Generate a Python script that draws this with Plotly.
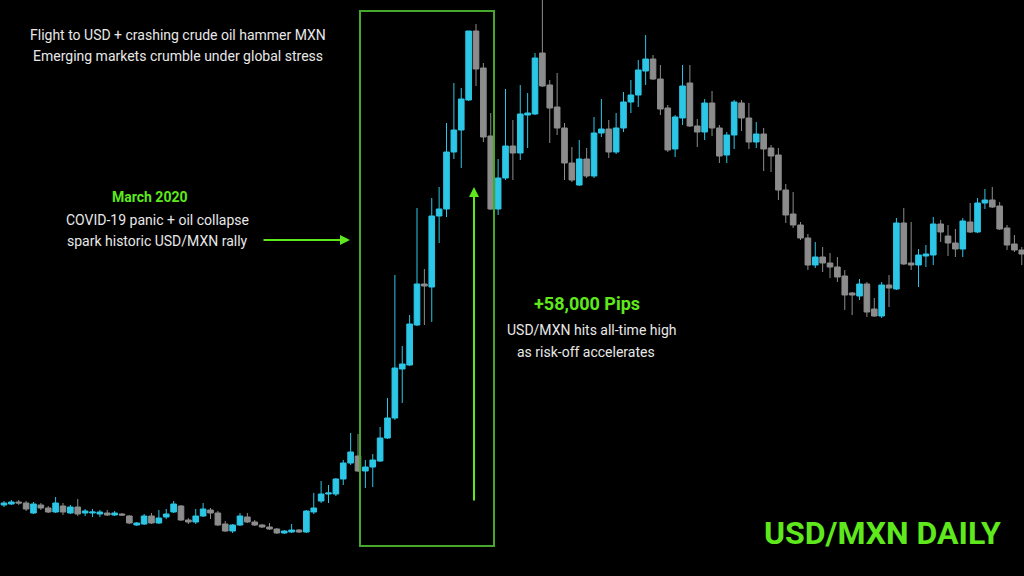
import pandas as pd
import plotly.graph_objects as go

# ---- data (USD/MXN daily candles) ----
dates = [d.strftime("%Y-%m-%d") for d in pd.bdate_range("2019-12-20", periods=139)]

open_ = [19.25, 19.26, 19.28, 19.27, 19.17, 19.25, 19.22, 19.18, 19.24, 19.17,
         19.23, 19.17, 19.17, 19.16, 19.17, 19.15, 19.16, 19.14, 19.05, 19.06,
         19.14, 19.07, 19.13, 19.18, 19.24, 19.10, 19.08, 19.14, 19.20, 19.17,
         19.06, 18.99, 19.05, 19.13, 19.08, 19.05, 19.03, 19.01, 18.97, 18.98,
         19.00, 18.98, 19.18, 19.29, 19.36, 19.36, 19.51, 19.67, 19.74, 19.59,
         19.63, 19.69, 19.92, 20.12, 20.61, 20.65, 21.05, 21.46, 21.43, 22.14,
         22.21, 22.78, 23.00, 23.30, 23.99, 23.62, 22.94, 22.21, 22.52, 22.84,
         22.77, 23.15, 23.16, 23.77, 23.45, 23.23, 23.02, 22.67, 22.45, 22.71,
         22.54, 22.97, 23.01, 22.78, 23.02, 23.28, 23.35, 23.59, 23.71, 23.51,
         23.22, 22.81, 23.12, 23.47, 23.04, 22.98, 23.27, 23.02, 22.75, 22.95,
         23.27, 23.12, 22.88, 22.96, 22.82, 22.75, 22.40, 22.16, 22.05, 21.92,
         21.65, 21.73, 21.67, 21.63, 21.54, 21.37, 21.34, 21.46, 21.21, 21.14,
         21.45, 21.41, 22.07, 21.67, 21.65, 21.74, 21.75, 22.06, 21.94, 21.87,
         21.81, 22.08, 21.98, 22.27, 22.30, 22.24, 22.02, 21.86, 21.80]

high = [19.29, 19.30, 19.30, 19.29, 19.28, 19.27, 19.24, 19.33, 19.27, 19.25,
        19.31, 19.21, 19.21, 19.20, 19.20, 19.19, 19.17, 19.15, 19.08, 19.16,
        19.17, 19.20, 19.21, 19.29, 19.25, 19.12, 19.21, 19.27, 19.22, 19.19,
        19.09, 19.06, 19.17, 19.17, 19.10, 19.06, 19.07, 19.02, 19.00, 19.06,
        19.01, 19.20, 19.37, 19.49, 19.45, 19.52, 19.70, 19.97, 19.96, 19.70,
        19.76, 20.03, 20.32, 21.55, 20.84, 21.15, 22.22, 21.61, 22.32, 22.43,
        23.07, 23.47, 23.42, 23.99, 24.06, 23.67, 23.17, 22.71, 23.41, 23.10,
        23.45, 23.37, 23.77, 24.32, 23.50, 23.57, 23.07, 22.83, 22.90, 22.82,
        23.13, 23.31, 23.10, 23.17, 23.38, 23.50, 23.70, 23.95, 23.75, 23.65,
        23.25, 23.15, 23.65, 23.65, 23.11, 23.31, 23.39, 23.05, 22.98, 23.30,
        23.30, 23.27, 23.08, 23.02, 22.85, 22.82, 22.46, 22.38, 22.08, 21.96,
        21.88, 21.83, 21.77, 21.73, 21.60, 21.38, 21.51, 21.48, 21.32, 21.48,
        21.55, 22.12, 22.22, 22.08, 21.81, 21.85, 22.13, 22.10, 22.05, 22.01,
        22.12, 22.27, 22.32, 22.41, 22.43, 22.28, 22.05, 21.95, 21.83]

low = [19.23, 19.25, 19.25, 19.19, 19.16, 19.20, 19.17, 19.17, 19.15, 19.16,
       19.14, 19.14, 19.13, 19.13, 19.14, 19.14, 19.14, 19.06, 19.04, 19.05,
       19.06, 19.06, 19.11, 19.17, 19.09, 19.06, 19.06, 19.13, 19.11, 19.04,
       18.98, 18.97, 19.04, 19.07, 19.04, 19.02, 19.00, 18.96, 18.96, 18.97,
       18.97, 18.97, 19.16, 19.27, 19.27, 19.34, 19.45, 19.65, 19.58, 19.42,
       19.43, 19.68, 19.91, 20.10, 20.27, 20.64, 21.04, 21.05, 21.08, 21.87,
       22.13, 22.71, 22.62, 23.29, 23.44, 22.88, 22.20, 22.15, 22.50, 22.50,
       22.70, 22.82, 23.15, 23.43, 22.87, 22.95, 22.50, 22.48, 22.44, 22.52,
       22.52, 22.93, 22.72, 22.76, 22.98, 23.17, 23.23, 23.45, 23.50, 23.15,
       22.78, 22.73, 23.05, 23.03, 22.83, 22.90, 22.94, 22.67, 22.67, 22.81,
       22.99, 22.81, 22.82, 22.59, 22.58, 22.30, 22.07, 22.02, 21.90, 21.60,
       21.62, 21.58, 21.52, 21.48, 21.20, 21.15, 21.30, 21.13, 21.13, 21.12,
       21.23, 21.40, 21.65, 21.60, 21.43, 21.63, 21.65, 21.88, 21.74, 21.73,
       21.73, 21.97, 21.97, 22.21, 22.22, 22.00, 21.80, 21.78, 21.65]

close = [19.27, 19.28, 19.27, 19.21, 19.26, 19.22, 19.18, 19.27, 19.18, 19.23,
         19.16, 19.19, 19.18, 19.18, 19.15, 19.17, 19.15, 19.07, 19.07, 19.14,
         19.07, 19.12, 19.16, 19.26, 19.10, 19.08, 19.14, 19.21, 19.17, 19.05,
         18.99, 19.05, 19.14, 19.08, 19.05, 19.03, 19.01, 18.97, 18.99, 19.00,
         18.98, 19.19, 19.22, 19.36, 19.37, 19.51, 19.67, 19.78, 19.59, 19.63,
         19.70, 19.92, 20.12, 20.62, 20.66, 21.06, 21.46, 21.44, 22.14, 22.21,
         22.78, 23.00, 23.31, 23.99, 23.61, 22.93, 22.21, 22.52, 22.84, 22.77,
         23.16, 23.17, 23.72, 23.44, 23.22, 23.02, 22.67, 22.50, 22.71, 22.54,
         22.97, 23.01, 22.78, 23.02, 23.28, 23.35, 23.60, 23.71, 23.51, 23.21,
         22.80, 23.13, 23.44, 23.04, 22.98, 23.27, 23.02, 22.74, 22.95, 23.28,
         23.12, 22.88, 22.96, 22.81, 22.74, 22.40, 22.15, 22.05, 21.92, 21.65,
         21.73, 21.67, 21.63, 21.53, 21.35, 21.35, 21.46, 21.18, 21.14, 21.45,
         21.42, 22.07, 21.66, 21.65, 21.75, 21.76, 22.06, 21.98, 21.87, 21.81,
         22.09, 21.98, 22.27, 22.30, 22.23, 22.01, 21.85, 21.80, 21.76]

UP = "#2cc6e6"
DOWN = "#8c8c8c"
GREEN = "#5fe81c"
BOX_GREEN = "#45a82c"
TEXT = "#e8e8e8"
W, H = 1024, 576

fig = go.Figure(go.Candlestick(
    x=dates, open=open_, high=high, low=low, close=close,
    increasing=dict(line=dict(color=UP, width=1), fillcolor=UP),
    decreasing=dict(line=dict(color=DOWN, width=1), fillcolor=DOWN),
    showlegend=False, hoverinfo="skip",
))

def px(x):
    return x / W

def py(y):
    return 1 - y / H

def label(text, x, y, size, color, bold=False):
    fig.add_annotation(
        text=f"<b>{text}</b>" if bold else text,
        x=px(x), y=py(y), xref="paper", yref="paper",
        xanchor="center", yanchor="middle", showarrow=False,
        font=dict(family="Roboto, sans-serif", size=size, color=color),
    )

label("Flight to USD + crashing crude oil hammer MXN", 178, 35, 14, TEXT)
label("Emerging markets crumble under global stress", 178, 56, 14, TEXT)

label("March 2020", 150, 197, 14, GREEN, bold=True)
label("COVID-19 panic + oil collapse", 157, 220, 14, TEXT)
label("spark historic USD/MXN rally", 157, 241, 14, TEXT)

label("+58,000 Pips", 587, 303, 18, GREEN, bold=True)
label("USD/MXN hits all-time high", 591, 330, 14, TEXT)
label("as risk-off accelerates", 586, 352, 14, TEXT)

fig.add_annotation(
    text="<b>USD/MXN DAILY</b>", x=px(1003), y=py(533), xref="paper", yref="paper",
    xanchor="right", yanchor="middle", showarrow=False,
    font=dict(family="Roboto, sans-serif", size=32, color=GREEN),
)

# arrows
fig.add_annotation(x=px(350), y=py(240), xref="paper", yref="paper", text="",
                   showarrow=True, ax=-88, ay=0, arrowhead=2, arrowsize=1,
                   arrowwidth=2, arrowcolor=GREEN)
fig.add_annotation(x=px(474), y=py(187), xref="paper", yref="paper", text="",
                   showarrow=True, ax=0, ay=315, arrowhead=2, arrowsize=1,
                   arrowwidth=2, arrowcolor=GREEN)

# highlight box
fig.add_shape(type="rect", xref="paper", yref="paper",
              x0=px(360), x1=px(494), y0=py(546), y1=py(11),
              line=dict(color=BOX_GREEN, width=2), fillcolor="rgba(0,0,0,0)")

fig.update_layout(
    width=W, height=H,
    margin=dict(l=0, r=0, t=0, b=0),
    paper_bgcolor="#000000", plot_bgcolor="#000000",
    xaxis=dict(type="category", visible=False, range=[-0.54, 138.3],
               rangeslider=dict(visible=False), fixedrange=True),
    yaxis=dict(visible=False, range=[18.54, 24.30], fixedrange=True),
    boxgap=0.1, boxgroupgap=0.15,
    showlegend=False,
)

fig.write_html(
    "out.html",
    config={"displayModeBar": False},
    post_script="document.body.style.margin='0';document.body.style.background='#000';",
)
